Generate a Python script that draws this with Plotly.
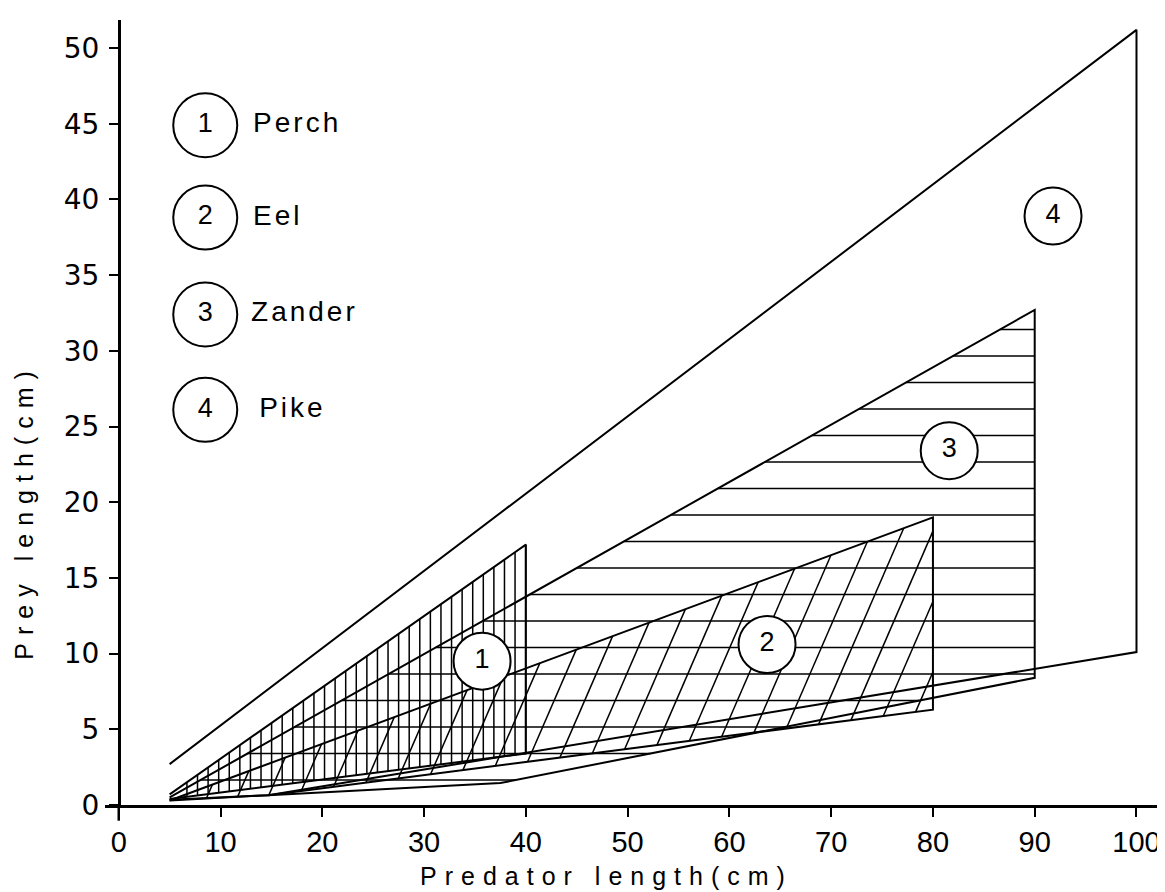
import plotly.graph_objects as go

# ---------------- data (cm) ----------------
perch_x = [5, 40, 40, 5]
perch_y = [0.7, 17.2, 3.4, 0.4]
eel_x = [5, 80, 80, 14.7]
eel_y = [0.3, 19.0, 6.3, 0.65]
zander_x = [5, 90, 90, 37.5, 14.7, 5]
zander_y = [0.5, 32.7, 8.4, 1.45, 0.65, 0.3]
pike_x = [5, 100, 100, 14.7, 5]
pike_y = [2.7, 51.2, 10.1, 0.65, 0.35]

label_nums = ["1", "2", "3", "4"]
label_names = ["Perch", "Eel", "Zander", "Pike"]
region_label_x = [35.7, 63.7, 81.6, 91.8]
region_label_y = [9.5, 10.6, 23.4, 38.9]
key_x = [8.5, 8.5, 8.5, 8.5]
key_y = [44.9, 38.8, 32.4, 26.1]
key_text_x = [13.2, 13.2, 13.0, 13.8]

x_ticks = [0, 10, 20, 30, 40, 50, 60, 70, 80, 90, 100]
y_ticks = [0, 5, 10, 15, 20, 25, 30, 35, 40, 45, 50]

FONT = "Liberation Sans"


# ---------------- hatch helpers (style) ----------------
def clip_line(px, py, p0, d):
    """Return segments of infinite line p0 + t*d inside closed polygon."""
    n = len(px)
    ts = []
    for i in range(n):
        ax, ay = px[i], py[i]
        bx, by = px[(i + 1) % n], py[(i + 1) % n]
        ex, ey = bx - ax, by - ay
        den = d[0] * ey - d[1] * ex
        if abs(den) < 1e-12:
            continue
        wx, wy = ax - p0[0], ay - p0[1]
        t = (wx * ey - wy * ex) / den
        s = (wx * d[1] - wy * d[0]) / den
        if 0 <= s < 1:
            ts.append(t)
    ts.sort()
    segs = []
    for k in range(0, len(ts) - 1, 2):
        segs.append(((p0[0] + ts[k] * d[0], p0[1] + ts[k] * d[1]),
                     (p0[0] + ts[k + 1] * d[0], p0[1] + ts[k + 1] * d[1])))
    return segs


def hatch(px, py, starts, d):
    xs, ys = [], []
    for p0 in starts:
        for a, b in clip_line(px, py, p0, d):
            xs += [a[0], b[0], None]
            ys += [a[1], b[1], None]
    return xs, ys


fig = go.Figure()
HATCH = dict(color="black", width=1.5)
OUT = dict(color="black", width=2)

# perch: vertical hatch
starts = [(6.7 + 1.04 * k, 0.0) for k in range(33)]
hx, hy = hatch(perch_x, perch_y, starts, (0, 1))
fig.add_trace(go.Scatter(x=hx, y=hy, mode="lines", line=HATCH, hoverinfo="skip"))

# zander: horizontal hatch
starts = [(0.0, 31.4 - 1.75 * k) for k in range(18)]
hx, hy = hatch(zander_x, zander_y, starts, (1, 0))
fig.add_trace(go.Scatter(x=hx, y=hy, mode="lines", line=HATCH, hoverinfo="skip"))

# eel: steep slanted hatch
starts = [(14.75 + 3.0 * k, 0.65) for k in range(-4, 23)]
hx, hy = hatch(eel_x, eel_y, starts, (1, 1.55))
fig.add_trace(go.Scatter(x=hx, y=hy, mode="lines", line=HATCH, hoverinfo="skip"))

# outlines
for xs, ys in [(perch_x, perch_y), (eel_x, eel_y),
               (zander_x, zander_y), (pike_x, pike_y)]:
    fig.add_trace(go.Scatter(x=list(xs), y=list(ys), mode="lines", line=OUT,
                             hoverinfo="skip"))

# region labels (circled numbers)
fig.add_trace(go.Scatter(
    x=region_label_x, y=region_label_y, mode="markers+text", text=label_nums,
    textposition="middle center",
    textfont=dict(family=FONT, size=27, color="black"),
    marker=dict(symbol="circle", size=57, color="white",
                line=dict(color="black", width=2)),
    hoverinfo="skip"))

# key
fig.add_trace(go.Scatter(
    x=key_x, y=key_y, mode="markers+text", text=label_nums,
    textposition="middle center",
    textfont=dict(family=FONT, size=27, color="black"),
    marker=dict(symbol="circle", size=64, color="white",
                line=dict(color="black", width=2)),
    hoverinfo="skip"))
fig.add_trace(go.Scatter(
    x=key_text_x, y=key_y, mode="text",
    text=['<span style="letter-spacing:3px">%s</span>' % t for t in label_names],
    textposition="middle right",
    textfont=dict(family=FONT, size=28, color="black"),
    hoverinfo="skip"))

axis_common = dict(showline=True, linecolor="black", linewidth=2.5,
                   ticks="outside", ticklen=9, tickwidth=2, tickcolor="black",
                   showgrid=False, zeroline=False)

fig.update_layout(
    width=1165, height=892,
    margin=dict(l=97, r=7, t=12, b=95),
    plot_bgcolor="white", paper_bgcolor="white",
    showlegend=False,
    xaxis=dict(range=[-1.35, 102.9], tickvals=x_ticks, domain=[0, 1],
               tickfont=dict(family=FONT, size=29, color="black"),
               **axis_common),
    yaxis=dict(range=[0, 51.85], tickvals=y_ticks, anchor="free",
               position=0.0129, ticklabelstandoff=4,
               tickfont=dict(family="DejaVu Sans", size=28, color="black"),
               **axis_common),
    annotations=[
        dict(text='<span style="letter-spacing:8px">Predator length(cm)</span>',
             x=47.9, xref="x", y=-0.091, yref="paper", showarrow=False,
             xanchor="center", yanchor="middle",
             font=dict(family=FONT, size=25, color="black")),
        dict(text='<span style="letter-spacing:8px">Prey length(cm)</span>',
             x=-0.076, xref="paper", y=19.4, yref="y", showarrow=False,
             textangle=-90, xanchor="center", yanchor="middle",
             font=dict(family=FONT, size=25, color="black")),
    ],
    shapes=[dict(type="line", xref="x", yref="y domain", x0=0, x1=0,
                 y0=0, y1=-0.02, line=dict(color="black", width=2.5))],
)

fig.write_html("out.html")
